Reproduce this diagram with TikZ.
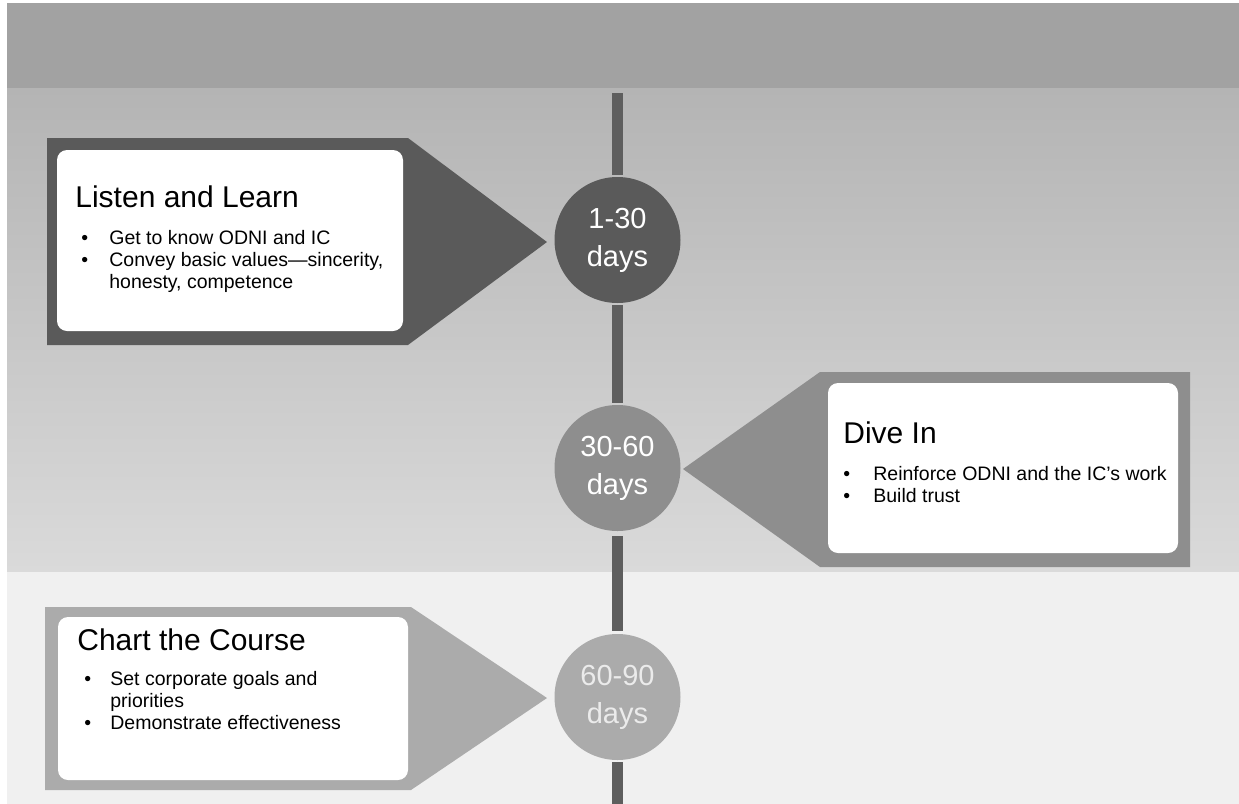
\documentclass[tikz,border=0pt]{standalone}
\usepackage{fontspec}
\setmainfont{Liberation Sans}
\usetikzlibrary{positioning}
\definecolor{bgtop}{HTML}{A2A2A2}
\definecolor{bgmid}{HTML}{B4B4B4}
\definecolor{bglow}{HTML}{DADADA}
\definecolor{bgfoot}{HTML}{F0F0F0}
\definecolor{phaseone}{HTML}{5A5A5A}
\definecolor{phasetwo}{HTML}{8E8E8E}
\definecolor{phasethree}{HTML}{ABABAB}
\definecolor{stemgray}{HTML}{5E5E5E}

\begin{document}
\begin{tikzpicture}[line cap=round,line join=round,x=0.5pt,y=-0.5pt,
    daynode/.style={circle,minimum size=63pt,inner sep=0pt,text=white,align=center,font=\fontsize{14.5}{19}\selectfont},
    headtext/.style={anchor=base west,inner sep=0pt,font=\fontsize{15}{18}\selectfont},
    itemtext/.style={anchor=base west,inner sep=0pt,font=\fontsize{9.75}{11}\selectfont},
    stem/.style={line width=5.5pt,line cap=butt,color=stemgray},
    card/.style={fill=white,rounded corners=5pt}]
      \useasboundingbox (0,0) rectangle (1239,804);
      \fill[color=white] (0,0) rectangle (1239,804);
      \fill[color=bgtop] (7,3) rectangle (1239,88);
      \shade[top color=bgmid,bottom color=bglow] (7,88) rectangle (1239,572);
      \fill[color=bgfoot] (7,572) rectangle (1239,804);
      \fill[color=phaseone] (47,138) -- (408,138) -- (547,242) -- (408,345) -- (47,345) -- cycle;
      \fill[card] (57,150) rectangle (403,331);
      \fill[color=phasetwo] (1190,372) -- (820,372) -- (683,469) -- (820,567) -- (1190,567) -- cycle;
      \fill[card] (828,383) rectangle (1178,553);
      \fill[color=phasethree] (45,607) -- (411,607) -- (547,698) -- (411,790) -- (45,790) -- cycle;
      \fill[card] (58,617) rectangle (408,780);
      \coordinate (stemtop) at (617.5,93);
      \coordinate (stembot) at (617.5,804);
      \node[daynode,fill=phaseone] (d1) at (617.5,240) {1-30\\days};
      \node[daynode,fill=phasetwo] (d2) at (617.5,468) {30-60\\days};
      \node[daynode,fill=phasethree,text=white!92!black] (d3) at (617.5,697) {60-90\\days};
      \draw[stem,shorten >=1pt] (stemtop) -- (d1);
      \draw[stem,shorten >=1pt,shorten <=1pt] (d1) -- (d2);
      \draw[stem,shorten >=1.5pt,shorten <=2.5pt] (d2) -- (d3);
      \draw[stem,shorten <=1pt] (d3) -- (stembot);
      \node[headtext] (t1) at (75,207) {Listen and Learn};
      \node[itemtext] (b1) at (81,244) {\begin{tabular}[t]{@{}p{14pt}@{}l@{}}
        •&Get to know ODNI and IC\\
        •&Convey basic values—sincerity,\\
        &honesty, competence\end{tabular}};
      \node[headtext] (t2) at (843,443) {Dive In};
      \node[itemtext] (b2) at (843,480) {\begin{tabular}[t]{@{}p{15pt}@{}l@{}}
        •&Reinforce ODNI and the IC's work\\
        •&Build trust\end{tabular}};
      \node[headtext] (t3) at (77,650) {Chart the Course};
      \node[itemtext] (b3) at (84,685) {\begin{tabular}[t]{@{}p{13pt}@{}l@{}}
        •&Set corporate goals and\\
        &priorities\\
        •&Demonstrate effectiveness\end{tabular}};
    \end{tikzpicture}
\end{document}
